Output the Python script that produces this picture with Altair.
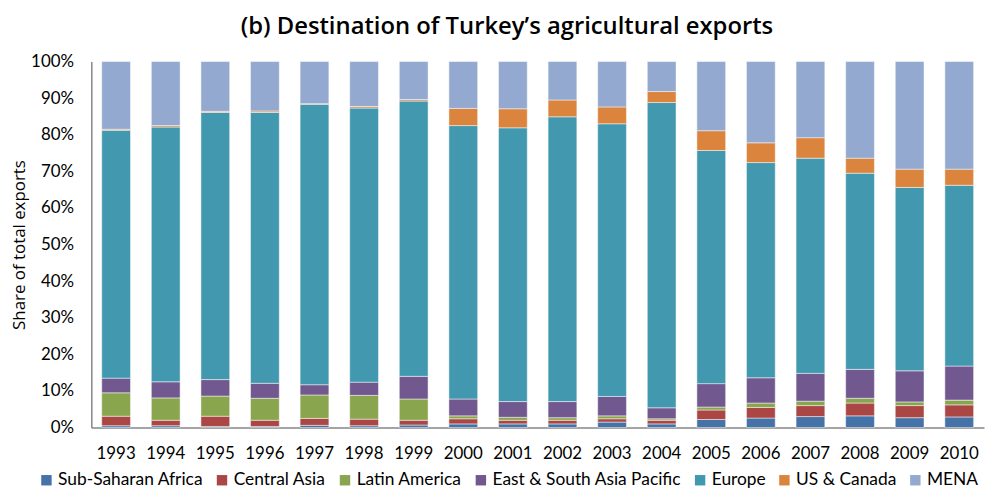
import altair as alt
import pandas as pd

years = [str(y) for y in range(1993, 2011)]
regions = ["Sub-Saharan Africa", "Central Asia", "Latin America",
           "East & South Asia Pacific", "Europe", "US & Canada", "MENA"]
colors = ["#4572A7", "#AA4643", "#89A54E", "#71588F", "#4198AF", "#DB843D", "#93A9CF"]

ssa    = [0.5, 0.5, 0.3, 0.3, 0.6, 0.5, 0.7, 1.0, 1.0, 1.0, 1.5, 1.0, 2.2, 2.6, 3.0, 3.2, 2.7, 2.9]
casia  = [2.6, 1.5, 2.8, 1.7, 1.9, 1.8, 1.3, 1.4, 1.0, 1.0, 0.9, 1.0, 2.6, 2.9, 3.0, 3.5, 3.3, 3.3]
latam  = [6.4, 6.1, 5.5, 6.0, 6.4, 6.5, 5.8, 0.8, 0.8, 0.7, 0.8, 0.4, 0.8, 1.2, 1.2, 1.3, 1.0, 1.3]
easia  = [4.0, 4.4, 4.5, 4.1, 2.8, 3.6, 6.2, 4.6, 4.3, 4.4, 5.3, 3.0, 6.4, 6.9, 7.6, 7.9, 8.5, 9.3]
europe = [67.7, 69.6, 73.0, 74.0, 76.6, 74.9, 75.2, 74.7, 74.8, 77.8, 74.5, 83.4, 63.7, 58.8, 58.8, 53.6, 50.1, 49.4]
uscan  = [0.3, 0.4, 0.3, 0.4, 0.2, 0.4, 0.4, 4.7, 5.2, 4.6, 4.6, 3.0, 5.4, 5.4, 5.6, 4.1, 5.0, 4.4]
mena   = [18.5, 17.5, 13.6, 13.5, 11.5, 12.3, 10.4, 12.8, 12.9, 10.5, 12.4, 8.2, 18.9, 22.2, 20.8, 26.4, 29.4, 29.4]

series = [ssa, casia, latam, easia, europe, uscan, mena]
rows = []
for i, (reg, vals) in enumerate(zip(regions, series)):
    for y, v in zip(years, vals):
        rows.append({"year": y, "region": reg, "share": v, "idx": i})
df = pd.DataFrame(rows)

FONT = "Lato"

chart = alt.Chart(df).mark_bar(stroke="white", strokeWidth=0.8, strokeOpacity=0.6).encode(
    x=alt.X("year:N", sort=years,
            scale=alt.Scale(paddingInner=0.42, paddingOuter=0.21),
            axis=alt.Axis(title=None, labelAngle=0, labelFontSize=17, labelFont=FONT,
                          labelColor="#000000", ticks=False, labelPadding=18,
                          domainColor="#868686", domainWidth=1.5)),
    y=alt.Y("share:Q", stack="zero",
            scale=alt.Scale(domain=[0, 100], nice=False),
            axis=alt.Axis(title="Share of total exports", values=list(range(0, 101, 10)),
                          labelExpr="datum.value + '%'", grid=False, ticks=False,
                          labelFontSize=17, labelFont=FONT, labelColor="#000000",
                          labelPadding=18, titleFontSize=17, titleFont="Open Sans",
                          titleFontWeight="normal", titleColor="#000000", titlePadding=2,
                          domainColor="#868686", domainWidth=1.5)),
    color=alt.Color("region:N", sort=regions,
                    scale=alt.Scale(domain=regions, range=colors),
                    legend=alt.Legend(title=None, orient="none", direction="horizontal",
                                      legendX=-54, legendY=413, symbolType="square",
                                      symbolSize=110, symbolStrokeWidth=0,
                                      labelFontSize=17.5, labelFont=FONT, labelColor="#000000",
                                      labelLimit=400, columnPadding=10, labelOffset=3,
                                      columns=7)),
    order=alt.Order("idx:Q", sort="ascending"),
).properties(
    width=900, height=369,
    title=alt.TitleParams("(b) Destination of Turkey\u2019s agricultural exports",
                          fontSize=24, font="Open Sans", fontWeight=600, color="#000000",
                          anchor="middle", offset=14, dx=-31),
    autosize=alt.AutoSizeParams(type="none"),
    padding={"left": 84, "top": 52, "right": 4, "bottom": 64},
).configure_view(stroke=None)

chart.save("out.html", embed_options={"renderer": "svg", "actions": False})
